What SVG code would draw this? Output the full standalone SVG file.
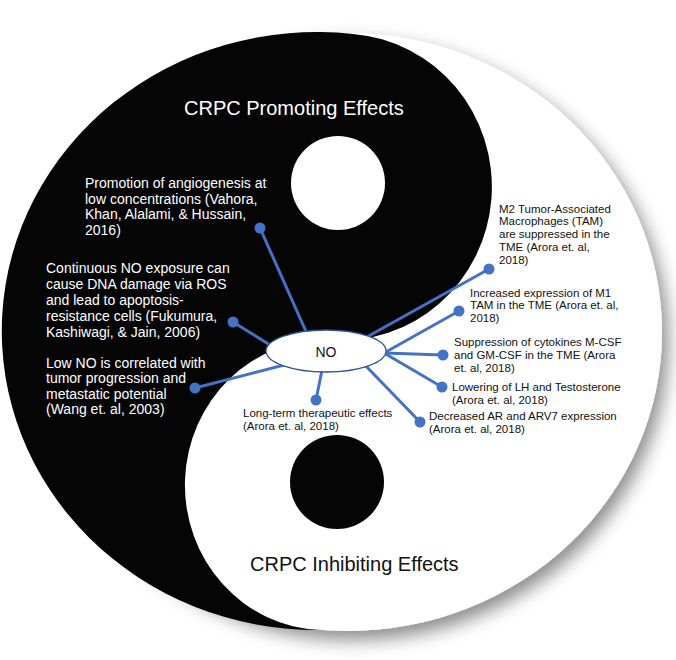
<svg xmlns="http://www.w3.org/2000/svg" width="676" height="660" viewBox="0 0 676 660">
<defs>
<filter id="shadow" x="-10%" y="-10%" width="125%" height="125%">
<feDropShadow dx="6" dy="9" stdDeviation="9" flood-color="#000" flood-opacity="0.45"/>
</filter>
<style>
.title{font-family:"Liberation Sans",Arial,sans-serif;font-size:20px}
.lw{font-family:"Liberation Sans",Arial,sans-serif;font-size:14px;fill:#fff}
.rb{font-family:"Liberation Sans",Arial,sans-serif;font-size:11.5px;fill:#111}
.con{stroke:#4472C4;stroke-width:3;fill:none;stroke-linecap:round}
.dot{fill:#4472C4}
</style>
</defs>
<rect width="676" height="660" fill="#fff"/>
<g id="yinyang">
<ellipse cx="347" cy="332" rx="315" ry="299" fill="#fff" filter="url(#shadow)"/>
<path d="M353,34 A150,153 0 0 1 330,340 A140,145 0 0 0 320,630 A315,299 0 1 1 353,34 Z" fill="#050505"/>
<ellipse cx="338" cy="183" rx="47" ry="47" fill="#fff"/>
<ellipse cx="337" cy="482" rx="47" ry="47" fill="#050505"/>
</g>
<g id="titles">
<text class="title" x="184" y="115" fill="#fff">CRPC Promoting Effects</text>
<text class="title" x="250" y="571" fill="#111">CRPC Inhibiting Effects</text>
</g>
<g id="connectors">
<line class="con" x1="260" y1="228" x2="312" y2="345"/>
<line class="con" x1="233" y1="322" x2="278" y2="350"/>
<line class="con" x1="195" y1="388" x2="292" y2="363"/>
<line class="con" x1="316" y1="400" x2="325" y2="355"/>
<line class="con" x1="489" y1="269" x2="365" y2="338"/>
<line class="con" x1="459" y1="311" x2="384" y2="353"/>
<line class="con" x1="443" y1="355" x2="384" y2="353"/>
<line class="con" x1="442" y1="387" x2="384" y2="353"/>
<line class="con" x1="420" y1="422" x2="362" y2="362"/>
<circle class="dot" cx="260" cy="228" r="5.5"/>
<circle class="dot" cx="233" cy="322" r="5.5"/>
<circle class="dot" cx="195" cy="388" r="5.5"/>
<circle class="dot" cx="316" cy="400" r="5.5"/>
<circle class="dot" cx="489" cy="269" r="5.5"/>
<circle class="dot" cx="459" cy="311" r="5.5"/>
<circle class="dot" cx="443" cy="355" r="5.5"/>
<circle class="dot" cx="442" cy="387" r="5.5"/>
<circle class="dot" cx="420" cy="422" r="5.5"/>
</g>
<g id="no">
<ellipse cx="326" cy="351" rx="60" ry="21" fill="#fff" stroke="#2F528F" stroke-width="1.3"/>
<text x="326" y="357" text-anchor="middle" font-family="'Liberation Sans',Arial,sans-serif" font-size="14" fill="#111">NO</text>
</g>
<g id="angiogenesis">
<text class="lw" x="85" y="188">Promotion of angiogenesis at</text>
<text class="lw" x="85" y="203.7">low concentrations (Vahora,</text>
<text class="lw" x="85" y="219.4">Khan, Alalami, &amp; Hussain,</text>
<text class="lw" x="85" y="235">2016)</text>
</g>
<g id="dna-damage">
<text class="lw" x="46" y="273">Continuous NO exposure can</text>
<text class="lw" x="46" y="289">cause DNA damage via ROS</text>
<text class="lw" x="46" y="305">and lead to apoptosis-</text>
<text class="lw" x="46" y="320.7">resistance cells (Fukumura,</text>
<text class="lw" x="46" y="336.7">Kashiwagi, &amp; Jain, 2006)</text>
</g>
<g id="low-no">
<text class="lw" x="46" y="367.7">Low NO is correlated with</text>
<text class="lw" x="46" y="383">tumor progression and</text>
<text class="lw" x="46" y="399">metastatic potential</text>
<text class="lw" x="46" y="414">(Wang et. al, 2003)</text>
</g>
<g id="m2-tam">
<text class="rb" x="499" y="212.5">M2 Tumor-Associated</text>
<text class="rb" x="499" y="225.4">Macrophages (TAM)</text>
<text class="rb" x="499" y="238.3">are suppressed in the</text>
<text class="rb" x="499" y="251.2">TME (Arora et. al,</text>
<text class="rb" x="499" y="264.1">2018)</text>
</g>
<g id="m1-tam">
<text class="rb" x="470" y="296.5">Increased expression of M1</text>
<text class="rb" x="470" y="309.4">TAM in the TME (Arora et. al,</text>
<text class="rb" x="470" y="322.3">2018)</text>
</g>
<g id="cytokines">
<text class="rb" x="454" y="345.8">Suppression of cytokines M-CSF</text>
<text class="rb" x="454" y="358.7">and GM-CSF in the TME (Arora</text>
<text class="rb" x="454" y="371.6">et. al, 2018)</text>
</g>
<g id="lh">
<text class="rb" x="452" y="390.8">Lowering of LH and Testosterone</text>
<text class="rb" x="452" y="403.7">(Arora et. al, 2018)</text>
</g>
<g id="ar">
<text class="rb" x="429" y="419.8">Decreased AR and ARV7 expression</text>
<text class="rb" x="429" y="432.7">(Arora et. al, 2018)</text>
</g>
<g id="long-term">
<text class="rb" x="243" y="416.8">Long-term therapeutic effects</text>
<text class="rb" x="243" y="429.7">(Arora et. al, 2018)</text>
</g>
</svg>
